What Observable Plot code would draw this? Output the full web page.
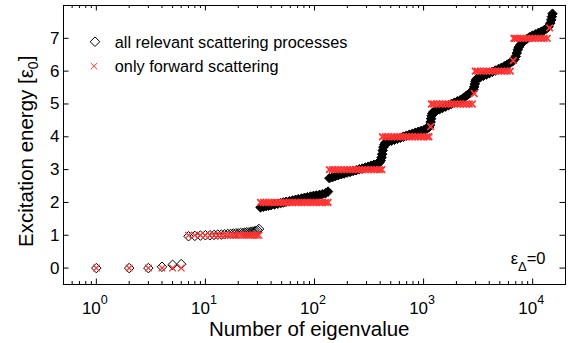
<!DOCTYPE html>
<html><head><meta charset="utf-8">
<script src="https://cdn.jsdelivr.net/npm/d3@7"></script>
<script src="https://cdn.jsdelivr.net/npm/@observablehq/plot@0.6"></script>
<style>
html,body{margin:0;padding:0;background:#fff;}
#chart{width:579px;height:343px;}
</style></head><body><div id="chart"></div>
<script>
// ---- data ----
// individually resolved eigenvalues (n = 1..31)
const sparseN = [1,2,3,4,5,6,7,8,9,10,11,12,13,14,15,16,17,18,19,20,21,22,23,24,25,26,27,28,29,30,31];
const sparseAllE = [0,0,0,0.04,0.10,0.12,0.97,0.98,0.99,1.00,1.00,1.01,1.02,1.02,1.03,1.04,1.04,1.05,1.06,1.06,1.07,1.07,1.08,1.09,1.09,1.10,1.11,1.12,1.13,1.15,1.19];
const sparseFwdE = [0,0,0,0,0,0,1,1,1,1,1,1,1,1,1,1,1,1,1,1,1,1,1,1,1,1,1,1,1,1,1];

// dense part, all relevant scattering processes (sampled along the band)
const denseAllN = [32,34,36,38,40,43,46,49,52,55,59,63,67,71,76,81,86,92,98,104,111,118,126,133,
 137,146,155,165,176,187,199,212,226,241,257,274,292,311,331,352,375,395,405,412,417,422,428,436,
 447,476,507,540,575,612,652,694,739,787,838,892,950,1012,1078,1120,1145,1160,1172,1185,1200,
 1235,1315,1400,1491,1588,1691,1800,1917,2042,2174,2316,2466,2626,2780,2860,2910,2950,2990,3040,
 3120,3323,3539,3769,4014,4275,4553,4849,5164,5500,5857,6238,6550,6800,7000,7150,7300,7450,7700,
 8214,8748,9317,9922,10567,11254,11986,12765,13400,14000,14500,14800,15000,15200];
const denseAllE = [1.85,1.87,1.89,1.90,1.92,1.94,1.96,1.98,2.00,2.02,2.04,2.06,2.08,2.10,2.12,2.14,2.16,2.18,2.20,2.21,2.23,2.25,2.28,2.33,
 2.74,2.77,2.80,2.83,2.86,2.88,2.91,2.93,2.96,2.98,3.01,3.03,3.06,3.09,3.12,3.15,3.18,3.22,3.28,3.37,3.47,3.58,3.68,3.76,
 3.82,3.85,3.88,3.91,3.94,3.97,4.00,4.03,4.06,4.09,4.12,4.15,4.18,4.21,4.25,4.29,4.36,4.45,4.55,4.64,4.71,
 4.76,4.80,4.84,4.88,4.92,4.96,5.00,5.04,5.08,5.12,5.18,5.25,5.32,5.38,5.44,5.52,5.61,5.69,5.75,
 5.78,5.82,5.86,5.90,5.94,5.98,6.02,6.06,6.10,6.15,6.20,6.26,6.30,6.36,6.45,6.55,6.65,6.73,6.80,
 6.90,6.97,7.03,7.08,7.12,7.16,7.20,7.25,7.30,7.36,7.46,7.56,7.66,7.75];

// dense part, only forward scattering (sampled along the plateaus)
const denseFwdN = [32,34,36,38,40,43,46,49,52,55,59,63,67,71,76,81,86,92,98,104,111,118,126,133,
 137,146,155,165,176,187,199,212,226,241,257,274,292,311,331,352,375,395,414,
 420,447,476,507,540,575,612,652,694,739,787,838,892,950,1012,1078,1120,1161,
 1180,1235,1315,1400,1491,1588,1691,1800,1917,2042,2174,2316,2466,2626,2800,2912,
 2980,3120,3323,3539,3769,4014,4275,4553,4849,5164,5500,5857,6238,6640,6730,
 6950,7242,7713,8214,8748,9317,9922,10567,11254,11986,12765,13595,14300,14950];
const denseFwdE = [2,2,2,2,2,2,2,2,2,2,2,2,2,2,2,2,2,2,2,2,2,2,2,2,
 3,3,3,3,3,3,3,3,3,3,3,3,3,3,3,3,3,3,3,
 4,4,4,4,4,4,4,4,4,4,4,4,4,4,4,4,4,4.31,
 5,5,5,5,5,5,5,5,5,5,5,5,5,5,5,5.32,
 6,6,6,6,6,6,6,6,6,6,6,6,6,6.32,
 7,7,7,7,7,7,7,7,7,7,7,7,7,7.32];

// axes
const yTicks = [0,1,2,3,4,5,6,7];
const xMajor = [1,10,100,1000,10000];
const xMinor = [0.6,0.7,0.8,0.9,2,3,4,5,6,7,8,9,20,30,40,50,60,70,80,90,200,300,400,500,600,700,800,900,2000,3000,4000,5000,6000,7000,8000,9000];

// texts
const xLabel = "Number of eigenvalue";
const yLabel = "Excitation energy [ε0]";
const seriesNames = ["all relevant scattering processes", "only forward scattering"];
const annotation = "εΔ=0";

// ---- build ----
const red = "#ff3333";
const font = "'Liberation Sans', Arial, Helvetica, sans-serif";
const W = 579, H = 343, mL = 63, mR = 14, mT = 5, mB = 59;
const innerW = W - mL - mR, innerH = H - mT - mB;

const sparse = sparseN.map((n, i) => ({n, all: sparseAllE[i], fwd: sparseFwdE[i]}));
const denseAll = denseAllN.map((n, i) => ({n, e: denseAllE[i]}));
const denseFwd = denseFwdN.map((n, i) => ({n, e: denseFwdE[i]}));

const plot = Plot.plot({
  width: W, height: H,
  marginLeft: mL, marginRight: mR, marginTop: mT, marginBottom: mB,
  style: {fontFamily: font, background: "white", color: "black", overflow: "visible"},
  x: {type: "log", domain: [0.5, 20000]},
  y: {domain: [-0.5, 8]},
  marks: [
    Plot.dot(denseAll, {x: "n", y: "e", symbol: "diamond2", r: 4.3, fill: "black", stroke: "black", strokeWidth: 1}),
    Plot.dot(sparse, {x: "n", y: "all", symbol: "diamond2", r: 4.3, fill: "none", stroke: "black", strokeWidth: 1}),
    Plot.dot(denseFwd, {x: "n", y: "e", symbol: "times", r: 3.1, stroke: red, strokeWidth: 1.8}),
    Plot.dot(sparse, {x: "n", y: "fwd", symbol: "times", r: 3.1, stroke: red, strokeWidth: 1.2}),
    Plot.frame({stroke: "black", strokeWidth: 1}),
    // inward ticks on all four sides
    Plot.tickX(xMajor, {x: d => d, insetTop: innerH - 5.5, stroke: "black"}),
    Plot.tickX(xMajor, {x: d => d, insetBottom: innerH - 5.5, stroke: "black"}),
    Plot.tickX(xMinor, {x: d => d, insetTop: innerH - 3, stroke: "black"}),
    Plot.tickX(xMinor, {x: d => d, insetBottom: innerH - 3, stroke: "black"}),
    Plot.tickY(yTicks, {y: d => d, insetRight: innerW - 5.5, stroke: "black"}),
    Plot.tickY(yTicks, {y: d => d, insetLeft: innerW - 5.5, stroke: "black"}),
    Plot.axisX(xMajor, {anchor: "bottom", tickSize: 0, tickPadding: 17, fontSize: 17, dx: -1.5,
      tickFormat: d => "10^" + Math.round(Math.log10(d)), label: null}),
    Plot.axisY(yTicks, {anchor: "left", tickSize: 0, tickPadding: 4, fontSize: 17, label: null}),
    Plot.text([xLabel], {frameAnchor: "bottom", text: d => d, textAnchor: "middle", lineAnchor: "middle", dx: -5.3, dy: 45, fontSize: 20.5}),
    Plot.text([yLabel], {frameAnchor: "left", text: d => d, rotate: -90, textAnchor: "middle", lineAnchor: "middle", dx: -37.3, dy: 6.3, fontSize: 20.5}),
    // legend
    Plot.dot([seriesNames[0]], {frameAnchor: "top-left", dx: 31.5, dy: 36.2, symbol: "diamond2", r: 4.3, fill: "none", stroke: "black", strokeWidth: 1}),
    Plot.dot([seriesNames[1]], {frameAnchor: "top-left", dx: 30.5, dy: 60.7, symbol: "times", r: 3.0, stroke: red, strokeWidth: 1}),
    Plot.text([seriesNames[0]], {frameAnchor: "top-left", text: d => d, textAnchor: "start", lineAnchor: "middle", dx: 51.3, dy: 37.5, fontSize: 16.3}),
    Plot.text([seriesNames[1]], {frameAnchor: "top-left", text: d => d, textAnchor: "start", lineAnchor: "middle", dx: 51.3, dy: 61.5, fontSize: 16.3}),
    Plot.text([annotation], {frameAnchor: "bottom-right", text: d => d, textAnchor: "end", lineAnchor: "middle", dx: -20, dy: -26, fontSize: 16.5})
  ]
});

const NS = "http://www.w3.org/2000/svg";
function tspan(txt, attrs = {}) {
  const t = document.createElementNS(NS, "tspan");
  t.textContent = txt;
  for (const k in attrs) t.setAttribute(k, attrs[k]);
  return t;
}
plot.querySelectorAll("text").forEach(t => {
  const s = t.textContent;
  if (/^10\^\d$/.test(s)) {
    // superscripted x tick labels
    const [b, e] = s.split("^");
    t.textContent = "";
    t.append(tspan(b), tspan(e, {dy: "-10", "font-size": "12.5px"}));
  } else if (s === yLabel) {
    t.textContent = "";
    t.append(tspan("Excitation energy [ε"), tspan("0", {dy: "5", "font-size": "14px"}), tspan("]", {dy: "-5"}));
  } else if (s === annotation) {
    t.textContent = "";
    t.append(tspan("ε"), tspan("Δ", {dy: "7", "font-size": "13px"}), tspan("=0", {dy: "-7"}));
  }
});
document.getElementById("chart").append(plot);
</script>
</body></html>
